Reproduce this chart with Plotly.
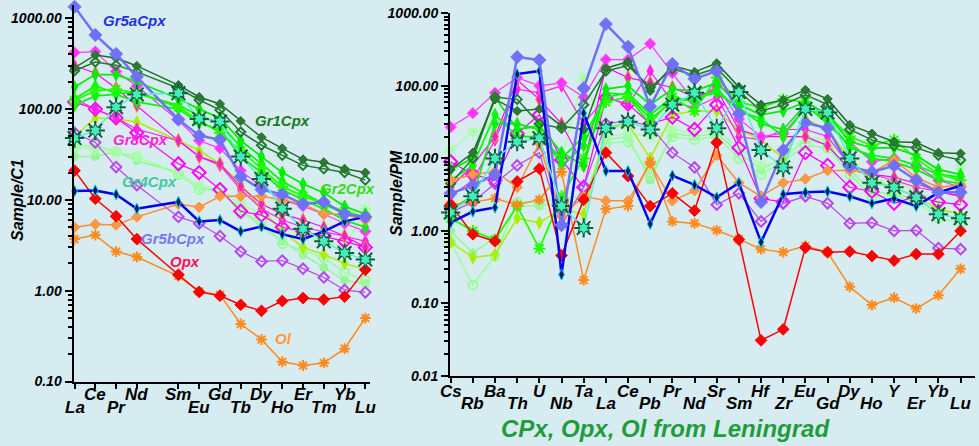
import plotly.graph_objects as go

W, H = 979, 446

REE = ["La", "Ce", "Pr", "Nd", "Sm", "Eu", "Gd", "Tb", "Dy", "Ho", "Er", "Tm", "Yb", "Lu"]
REE_POS = [0, 1, 2, 3, 5, 6, 7, 8, 9, 10, 11, 12, 13, 14]
SPIDER = ["Cs", "Rb", "Ba", "Th", "U", "Nb", "Ta", "La", "Ce", "Pb", "Pr", "Nd", "Sr", "Sm",
          "Hf", "Zr", "Eu", "Gd", "Dy", "Ho", "Y", "Er", "Yb", "Lu"]
SPIDER_POS = list(range(len(SPIDER)))

# chondrite-normalised REE (left panel)
GR1A_C1 = [284, 395, 365, 299, 184, 136, 114, 74, 49, 37, 28, 26, 22, 20]
GR1B_C1 = [265, 330, 305, 257, 170, 126, 98, 56, 40, 31, 24, 22, 20, 16.5]
GR2A_C1 = [175, 240, 240, 200, 130, 100, 80, 45, 30, 20, 15, 12, 8.5, 7]
GR2B_C1 = [130, 180, 150, 150, 110, 85, 70, 38, 25, 16, 12, 9, 7, 6]
GR2C_C1 = [110, 140, 145, 120, 100, 70, 60, 30, 20, 13, 10, 8, 6, 5]
GR2D_C1 = [125, 160, 165, 150, 105, 75, 55, 35, 22, 14, 11, 9, 7.5, 6.5]
GR8A_C1 = [420, 430, 260, 180, 75, 45, 37, 21, 14, 10, 8.5, 7, 5.5, 4.5]
GR8B_C1 = [300, 250, 170, 110, 45, 30, 25, 14, 9, 7, 6, 5, 4, 3]
GR8C_C1 = [130, 100, 80, 60, 45, 30, 24, 13, 8, 6, 5, 4.5, 4, 3.5]
GR8D_C1 = [120, 100, 80, 55, 25, 20, 13, 7.5, 6.8, 5, 4.5, 4, 3.5, 3]
PURP_C1 = [55, 43, 23, 14.5, 6.5, 5.5, 4, 2.7, 2.1, 2.15, 1.75, 1.4, 1.02, 0.96]
BLUE_C1 = [12.5, 12.7, 11.5, 8, 9.5, 5.8, 6, 4.5, 5.1, 4.2, 3.7, 4.5, 5.8, 6.5]
OPX_C1 = [21, 10.3, 6.6, 3.7, 1.5, 0.97, 0.88, 0.7, 0.6, 0.77, 0.83, 0.8, 0.86, 1.7]
ORNG_C1 = [5, 5.4, 5.3, 6.5, 9, 8.3, 11, 11, 11, 10, 9, 7, 7, 6]
OL_C1 = [3.7, 4.1, 2.7, 2.35, 1.45, 0.98, 0.9, 0.43, 0.29, 0.165, 0.15, 0.16, 0.23, 0.5]
STAR_C1 = [48, 58, 105, 145, 150, 78, 73, 30, 17, 8, 4.8, 3.5, 2.6, 2.2]
YGRN_C1 = [50, 80, 78, 72, 45, 35, 25, 15, 8, 4.5, 3, 2.5, 2, 1.7]
LGA_C1 = [38, 40, 34, 30, 19, 13, 13, 7, 6, 3.3, 2.8, 2.3, 1.6, 1.3]
LGB_C1 = [30, 30, 34, 27, 20, 14, 12, 8, 5, 3.5, 2.5, 1.8, 1.3, 1.2]
PALE_C1 = [38, 36, 34, 30, 20, 14, 13, 9, 7, 5, 4, 3.5, 3, 8]
GR5A_C1 = [1340, 655, 405, 227, 77, 51, 46, 18, 13, 11.5, 9, 9.5, 7, 6.5]

# primitive-mantle-normalised spider (right panel)
GR1A_PM = [7, 12, 65, 45, 48, 28, 25, 175, 215, 85, 190, 156, 205, 96, 55, 64, 88, 66, 29, 22, 17, 16.5, 12, 11.7]
GR1B_PM = [4.5, 10, 70, 65, 30, 26, 55, 160, 190, 95, 170, 140, 175, 85, 45, 55, 75, 55, 25, 18, 15, 14, 11, 9.5]
GR2A_PM = [7, 10, 70, 25, 28, 12, 8, 90, 100, 55, 90, 85, 110, 55, 40, 45, 60, 40, 17, 14, 14, 11, 7, 6]
GR2B_PM = [5, 8, 40, 20, 20, 10, 20, 70, 80, 40, 70, 60, 90, 45, 35, 20, 50, 35, 14, 11, 10, 8, 6, 5.5]
GR2C_PM = [2, 3, 30, 30, 25, 8, 15, 80, 75, 35, 60, 70, 80, 50, 30, 25, 55, 30, 15, 10, 9, 7, 5, 4.5]
GR2D_PM = [1.5, 1.0, 0.75, 2.2, 0.57, 3, 10, 60, 70, 30, 70, 45, 130, 60, 50, 65, 60, 40, 20, 15, 18, 10, 6, 5]
GR8A_PM = [27, 42, 80, 130, 100, 110, 70, 230, 230, 380, 150, 60, 100, 35, 20, 22, 50, 40, 17, 9, 10, 8, 5, 4]
GR8B_PM = [4, 8, 20, 120, 65, 30, 8, 180, 130, 110, 95, 70, 90, 25, 20, 20, 20, 15, 7, 6, 5.5, 4.5, 3.5, 3]
GR8C_PM = [3, 5, 18, 90, 80, 100, 30, 70, 55, 160, 60, 50, 70, 20, 18, 25, 25, 20, 8, 6, 5, 4, 3.5, 3]
GR8D_PM = [9, 6, 5, 22, 40, 9.5, 4, 68, 56, 30, 37, 25, 55, 14, 2.8, 2.5, 12, 8, 4, 3.5, 2.4, 3, 2.5, 2.3]
PURP_PM = [1.8, 2.5, 4.5, 8, 12, 1.2, 4, 30, 33, 28, 12, 7.5, 2.3, 3.3, 1.35, 2.4, 3.0, 2.4, 1.27, 1.3, 1.0, 1.02, 0.58, 0.56]
BLUE_PM = [1.3, 1.85, 2.1, 145, 160, 0.25, 42, 6.7, 6.7, 1.25, 5.8, 4.3, 2.9, 4.6, 0.7, 3.2, 3.4, 3.5, 3.0, 2.4, 2.8, 2.2, 3.4, 4.2]
OPX_PM = [2.3, 0.9, 0.72, 4.8, 7.2, 0.46, 2.7, 12, 5.7, 2.2, 3.3, 1.9, 16.5, 0.76, 0.031, 0.044, 0.59, 0.51, 0.52, 0.45, 0.39, 0.48, 0.48, 1.0]
ORNG_PM = [5, 6, 6.6, 4, 16, 1.6, 3, 2.6, 2.6, 8.5, 2.6, 3.6, 11, 4.6, 3, 4.6, 5.2, 6.8, 6.8, 6.3, 9.5, 5.4, 4, 4.3]
OL_PM = [2.3, 2.5, 2.8, 2.3, 2.7, 6.5, 0.21, 2.0, 2.2, 9, 1.35, 1.27, 1.02, 0.77, 0.56, 0.51, 0.62, 0.51, 0.17, 0.095, 0.12, 0.085, 0.13, 0.3]
STAR_PM = [1.8, 3, 10, 17, 19, 2.2, 1.1, 26, 32, 25, 55, 80, 26, 82, 13, 7.5, 48, 43, 10, 4.6, 4, 2.9, 1.7, 1.5]
YGRN_PM = [0.7, 0.43, 0.47, 1.5, 1.3, 2.0, 1.7, 25, 30, 10, 40, 45, 45, 25, 18, 10, 35, 25, 10, 5, 4, 3, 2, 1.7]
LGA_PM = [0.7, 0.18, 0.45, 2.5, 2.5, 2.8, 3, 16, 17, 6, 20, 18, 20, 10, 6, 9, 15, 14, 6, 3, 3, 2.5, 1.5, 1.3]
LGB_PM = [1.0, 0.5, 0.8, 2.2, 2.2, 2.5, 2.5, 18, 20, 5, 22, 20, 22, 12, 7, 10, 18, 16, 7, 3.5, 3.2, 2.8, 1.8, 1.4]
PALE_PM = [13, 23, 30, 20, 25, 10, 130, 20, 22, 20, 25, 22, 25, 14, 8, 9, 20, 18, 8, 5, 5, 3.5, 2.5, 8]
GR5A_PM = [3.3, 4.2, 6, 250, 227, 1.2, 93, 710, 345, 52, 200, 125, 160, 41, 2.5, 13, 31, 26, 7.7, 6.5, 7.9, 5, 3.4, 3.4]

# (c1 values, pm values, line colour, marker symbol, marker fill, marker edge, size, line width)
SERIES = [
    (LGB_C1, LGB_PM, "#99f599", "circle", "#99f599", "#99f599", 8, 1.5),
    (LGA_C1, LGA_PM, "#99ff99", "circle-open", "#99ff99", "#99ff99", 9, 1.5),
    (PALE_C1, PALE_PM, "#aaffaa", "asterisk-open", "#aaffaa", "#aaffaa", 10, 1.5),
    (YGRN_C1, YGRN_PM, "#aaee00", "diamond-tall", "#aaee00", "#aaee00", 9, 1.5),
    (GR8D_C1, GR8D_PM, "#ff00ff", "diamond-open", "#ff00ff", "#ff00ff", 10, 1.2),
    (GR8C_C1, GR8C_PM, "#ff22ee", "diamond-tall", "#ff22ee", "#ff22ee", 9, 1.2),
    (GR8B_C1, GR8B_PM, "#ff00ff", "diamond-tall", "#ee22cc", "#ff8844", 10, 1.2),
    (GR8A_C1, GR8A_PM, "#ff33ff", "diamond", "#ff33ff", "#ff77ff", 9, 1.2),
    (PURP_C1, PURP_PM, "#bb44ee", "diamond-open", "#bb44ee", "#bb44ee", 8, 1.2),
    (GR2C_C1, GR2C_PM, "#11ee11", "diamond-tall", "#11ee11", "#11ee11", 9, 1.8),
    (GR2B_C1, GR2B_PM, "#00ff00", "diamond-tall", "#00ff00", "#00ff00", 9, 1.8),
    (GR2D_C1, GR2D_PM, "#22ff00", "asterisk-open", "#22ff00", "#22ff00", 10, 1.8),
    (GR2A_C1, GR2A_PM, "#00ee00", "diamond-tall", "#00ee00", "#00ee00", 9, 1.8),
    (GR1B_C1, GR1B_PM, "#237a30", "diamond-open", "#237a30", "#237a30", 7, 1.5),
    (GR1A_C1, GR1A_PM, "#1f6e28", "diamond", "#2a7a34", "#1f6e28", 7, 1.5),
    (ORNG_C1, ORNG_PM, "#ff8c33", "diamond", "#ff9944", "#ff8c33", 8, 1.5),
    (OL_C1, OL_PM, "#ff8a1e", "asterisk-open", "#ff8a1e", "#ff8a1e", 9, 1.5),
    (OPX_C1, OPX_PM, "#ff0000", "diamond", "#ff0000", "#ff0000", 9, 1.5),
    (BLUE_C1, BLUE_PM, "#0000ee", "diamond-tall", "#001a55", "#00ccff", 8, 2.5),
    (GR5A_C1, GR5A_PM, "#7070f8", "diamond", "#7070f8", "#7070f8", 10, 2.5),
    (STAR_C1, STAR_PM, "#55eedd", "asterisk-open", "#0b5e3a", "#0b5e3a", 16, 1.5),
]

fig = go.Figure()
for c1, pm, col, sym, fill, edge, size, lw in SERIES:
    is_open = sym.endswith("-open")
    mk = dict(symbol=sym, size=size, color=fill,
              line=dict(color=edge, width=2 if is_open else 1))
    for xs, ys, xa, ya in ((REE_POS, c1, "x", "y"), (SPIDER_POS, pm, "x2", "y2")):
        fig.add_trace(go.Scatter(x=xs, y=ys, mode="lines+markers", xaxis=xa, yaxis=ya,
                                 line=dict(color=col, width=lw), marker=mk,
                                 cliponaxis=False, showlegend=False, hoverinfo="skip"))

# aquamarine centres of the star markers
for xs, ys, xa, ya in ((REE_POS, STAR_C1, "x", "y"), (SPIDER_POS, STAR_PM, "x2", "y2")):
    fig.add_trace(go.Scatter(x=xs, y=ys, mode="markers", xaxis=xa, yaxis=ya,
                             marker=dict(symbol="hexagram", size=10, color="#44eebb",
                                         line=dict(color="#0b5e3a", width=1)),
                             cliponaxis=False, showlegend=False, hoverinfo="skip"))

def px_x(p):
    return p / W

def px_y(p):
    return (H - p) / H

TICKFONT = dict(family="Liberation Sans", size=14, color="black", weight="bold", style="italic")

def minor_vals(lo, hi):
    vals = []
    for e in range(lo, hi):
        for m in range(2, 10):
            vals.append(m * 10 ** e)
    return vals

fig.update_layout(
    width=W, height=H, margin=dict(l=0, r=0, t=0, b=0, autoexpand=False),
    paper_bgcolor="#d7ecf1", plot_bgcolor="#d7ecf1",
    xaxis=dict(domain=[px_x(73.5), px_x(369.5)], range=[-0.05, 14.2], showgrid=False,
               zeroline=False, showline=True, linecolor="black", linewidth=2, automargin=False,
               tickmode="array", tickvals=REE_POS, ticktext=[""] * len(REE_POS),
               ticks="outside", ticklen=5, tickwidth=2, tickcolor="black"),
    yaxis=dict(domain=[px_y(381.5), px_y(4.7)], type="log", range=[-1, 3.15], showgrid=False,
               zeroline=False, showline=True, linecolor="black", linewidth=2, automargin=False,
               tickmode="array", tickvals=[0.1, 1, 10, 100, 1000],
               ticktext=["0.10", "1.00", "10.00", "100.00", "1000.00"],
               ticks="outside", ticklen=7, tickwidth=2, tickcolor="black", tickfont=TICKFONT,
               minor=dict(tickmode="array", tickvals=minor_vals(-1, 3), ticks="outside",
                          ticklen=4, tickwidth=1.5, tickcolor="black", showgrid=False)),
    xaxis2=dict(domain=[px_x(450), px_x(975)], range=[-0.03, 23.65], showgrid=False,
                zeroline=False, showline=True, linecolor="black", linewidth=2, automargin=False,
                tickmode="array", tickvals=SPIDER_POS, ticktext=[""] * len(SPIDER_POS),
                ticks="outside", ticklen=5, tickwidth=2, tickcolor="black", anchor="y2"),
    yaxis2=dict(domain=[px_y(376), px_y(13.3)], type="log", range=[-2, 3], showgrid=False,
                zeroline=False, showline=True, linecolor="black", linewidth=2, anchor="x2",
                automargin=False,
                tickmode="array", tickvals=[0.01, 0.1, 1, 10, 100, 1000],
                ticktext=["0.01", "0.10", "1.00", "10.00", "100.00", "1000.00"],
                ticks="outside", ticklen=7, tickwidth=2, tickcolor="black", tickfont=TICKFONT,
                minor=dict(tickmode="array", tickvals=minor_vals(-2, 3), ticks="outside",
                           ticklen=4, tickwidth=1.5, tickcolor="black", showgrid=False)),
)

LBL = dict(family="Liberation Sans", size=17, color="black", weight="bold", style="italic")
ann = []
for name, pos in zip(REE, REE_POS):
    ann.append(dict(x=pos, y=px_y(394 if pos % 2 == 1 else 407), xref="x", yref="paper",
                    text=name, showarrow=False, font=LBL, xanchor="center", yanchor="middle"))
for name, pos in zip(SPIDER, SPIDER_POS):
    ann.append(dict(x=pos, y=px_y(391 if pos % 2 == 0 else 403), xref="x2", yref="paper",
                    text=name, showarrow=False, font=LBL, xanchor="center", yanchor="middle"))

AX = dict(family="Liberation Sans", size=16, color="black", weight="bold", style="italic")
ann.append(dict(x=px_x(18), y=px_y(200), xref="paper", yref="paper", text="Sample/C1",
                textangle=-90, showarrow=False, font=AX, xanchor="center", yanchor="middle"))
ann.append(dict(x=px_x(396), y=px_y(193), xref="paper", yref="paper", text="Sample/PM",
                textangle=-90, showarrow=False, font=AX, xanchor="center", yanchor="middle"))

LABELS = [
    ("Gr5aCpx", 134, 20, "#2233dd"),
    ("Gr1Cpx", 282, 120, "#1a7a20"),
    ("Gr8Cpx", 140, 139, "#ff22dd"),
    ("Gr2Cpx", 347, 188, "#33dd11"),
    ("Gr4Cpx", 149, 182, "#44c8a0"),
    ("Gr5bCpx", 173, 238, "#7777ee"),
    ("Opx", 185, 261, "#ff1155"),
    ("Ol", 283, 338, "#ff9933"),
]
for t, x, y, c in LABELS:
    ann.append(dict(x=px_x(x), y=px_y(y), xref="paper", yref="paper", text=t, showarrow=False,
                    xanchor="center", yanchor="middle",
                    font=dict(family="Liberation Sans", size=15, color=c, weight="bold", style="italic")))

ann.append(dict(x=px_x(665), y=px_y(428), xref="paper", yref="paper",
                text="CPx, Opx, Ol from Leningrad", showarrow=False, xanchor="center", yanchor="middle",
                font=dict(family="Liberation Sans", size=24, color="#1f9c3c", weight="bold", style="italic")))

fig.update_layout(annotations=ann)
fig.write_html("out.html")
